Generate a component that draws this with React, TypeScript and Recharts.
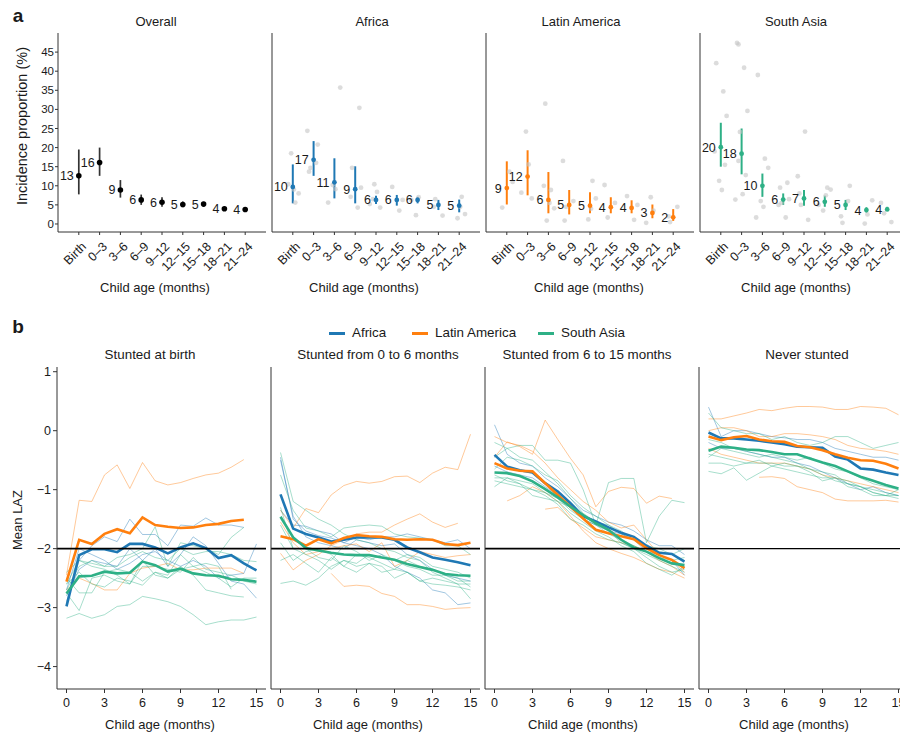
import React from "react";
import {
  ComposedChart,
  Scatter,
  ErrorBar,
  XAxis,
  YAxis,
  LineChart,
  Line,
  ReferenceLine,
} from "recharts";

// ---------- panel a: incidence proportion by age bin ----------
const AGE_BINS = ["Birth", "0–3", "3–6", "6–9", "9–12", "12–15", "15–18", "18–21", "21–24"];
const INCIDENCE_TICKS = [0, 5, 10, 15, 20, 25, 30, 35, 40, 45];

const overallEst = [12.6, 16.1, 8.9, 6.3, 5.7, 5.1, 5.2, 4.0, 3.8];
const overallLo = [7.75, 12.6, 6.9, 5.0, 4.5, 4.4, 4.7, 3.6, 3.3];
const overallHi = [19.5, 20.0, 11.5, 7.7, 7.0, 5.9, 5.8, 4.5, 4.3];

const africaEst = [9.7, 16.8, 10.9, 9.1, 6.3, 6.3, 6.3, 5.0, 4.8];
const africaLo = [5.4, 12.6, 6.7, 5.4, 5.2, 4.8, 5.4, 3.65, 3.05];
const africaHi = [15.6, 21.7, 17.2, 15.1, 7.4, 7.6, 7.1, 6.3, 6.4];

const latamEst = [9.4, 12.4, 6.3, 5.0, 4.8, 4.4, 4.2, 2.9, 1.75];
const latamLo = [5.1, 7.5, 2.8, 2.5, 2.8, 2.8, 2.8, 1.5, 0.8];
const latamHi = [16.4, 19.3, 13.6, 8.9, 8.3, 7.0, 6.2, 5.1, 3.9];

const asiaEst = [20.1, 18.4, 10.0, 6.4, 6.7, 5.8, 5.0, 3.65, 3.8];
const asiaLo = [15.0, 13.0, 7.1, 5.0, 4.8, 4.5, 3.65, 3.0, 3.4];
const asiaHi = [26.5, 25.0, 13.2, 8.0, 8.9, 7.4, 6.3, 4.4, 4.5];

// cohort-level estimates: [age bin index, incidence %]
const africaCohortDots = [
  [0, 10.4], [0, 5.6], [0, 8.0], [0, 18.5], [0, 9.0],
  [1, 24.4], [1, 20.8], [1, 14.7], [1, 13.7], [1, 16.0],
  [2, 35.7], [2, 10.2], [2, 9.1], [2, 5.6],
  [3, 30.4], [3, 14.7], [3, 7.1], [3, 4.3], [3, 9.5],
  [4, 10.4], [4, 8.4], [4, 5.2], [4, 4.3], [4, 6.5],
  [5, 9.7], [5, 3.5], [5, 6.3],
  [6, 2.3], [6, 7.0], [6, 6.3],
  [7, 2.2], [7, 6.5], [7, 4.5],
  [8, 7.1], [8, 2.6], [8, 1.5], [8, 4.5],
];
const latamCohortDots = [
  [0, 4.3], [0, 13.7], [0, 11.0],
  [1, 24.2], [1, 15.6], [1, 8.2], [1, 6.7],
  [2, 31.5], [2, 10.0], [2, 8.9], [2, 4.1], [2, 0.9], [2, 5.5],
  [3, 16.5], [3, 6.0], [3, 4.5], [3, 0.9],
  [4, 11.3], [4, 6.7], [4, 1.2], [4, 4.0],
  [5, 10.2], [5, 5.5], [5, 1.7],
  [6, 7.3], [6, 1.1], [6, 5.0],
  [7, 7.0], [7, 3.5], [7, 0.3],
  [8, 4.5], [8, 0.5], [8, 2.0],
];
const asiaCohortDots = [
  [0, 42.1], [0, 34.7], [0, 28.3], [0, 11.3], [0, 8.9], [0, 19.0], [0, 15.5],
  [1, 47.0], [1, 47.4], [1, 40.9], [1, 29.6], [1, 24.1], [1, 7.8], [1, 6.4], [1, 12.8], [1, 16.5],
  [2, 39.0], [2, 17.1], [2, 14.7], [2, 6.0], [2, 4.5], [2, 1.7],
  [3, 10.8], [3, 9.5], [3, 5.0], [3, 1.7], [3, 6.5], [3, 5.5],
  [4, 24.2], [4, 12.5], [4, 1.1], [4, 5.0], [4, 8.0],
  [5, 9.5], [5, 9.0], [5, 3.5], [5, 7.5], [5, 5.0],
  [6, 10.0], [6, 0.3], [6, 2.0], [6, 6.0],
  [7, 6.2], [7, 0.1], [7, 2.5],
  [8, 5.5], [8, 0.5], [8, 2.8],
];

// ---------- panel b: mean LAZ by month ----------
const MONTHS = [0, 1, 2, 3, 4, 5, 6, 7, 8, 9, 10, 11, 12, 13, 14, 15];
const MONTH_TICKS = [0, 3, 6, 9, 12, 15];
const LAZ_TICKS = [1, 0, -1, -2, -3, -4];

type Vals = (number | null)[];

// stunted at birth
const birthAfrica: Vals = [-2.98, -2.11, -2.01, -2.01, -2.06, -1.92, -1.92, -1.98, -2.08, -1.98, -1.91, -1.99, -2.16, -2.11, -2.25, -2.37];
const birthLatam: Vals = [-2.56, -1.85, -1.92, -1.75, -1.67, -1.74, -1.47, -1.6, -1.63, -1.65, -1.64, -1.6, -1.58, -1.53, -1.51, null];
const birthAsia: Vals = [-2.76, -2.47, -2.46, -2.39, -2.42, -2.41, -2.22, -2.28, -2.39, -2.34, -2.42, -2.45, -2.46, -2.52, -2.53, -2.56];
const birthAfricaCohorts: Vals[] = [
  [-2.9, -2.2, -1.95, -1.8, -1.88, -1.5, -1.76, -1.76, -1.95, -1.6, -1.62, -1.48, -1.6, -1.6, -1.64, null],
  [-2.8, -2.35, -2.2, -2.25, -2.3, -2.0, -2.2, -2.0, -2.3, -2.1, -1.8, -1.95, -2.25, -2.55, -2.6, -2.84],
  [-2.7, -2.0, -2.1, -2.2, -2.35, -2.25, -2.1, -2.05, -2.2, -2.3, -2.2, -2.3, -2.5, -2.45, -2.42, -1.92],
];
const birthLatamCohorts: Vals[] = [
  [-2.45, -1.18, -1.2, -0.75, -0.58, -0.98, -0.54, -0.85, -0.92, -0.88, -0.81, -0.75, -0.72, -0.62, -0.49, null],
  [-2.7, -2.5, -2.59, -2.7, -2.7, -2.42, -2.33, -2.3, -2.25, -2.36, -2.36, -2.33, -2.33, -2.33, -2.42, null],
];
const birthAsiaCohorts: Vals[] = [
  [-3.18, -3.1, -3.18, -3.12, -2.98, -2.95, -2.81, -2.85, -2.9, -2.98, -3.12, -3.29, -3.24, -3.21, -3.21, -3.16],
  [-2.75, -3.05, -2.5, -2.45, -2.55, -2.6, -2.2, -2.45, -2.5, -2.3, -2.45, -2.7, -2.75, -2.8, -2.82, null],
  [-2.6, -2.2, -2.25, -2.3, -2.15, -2.1, -2.0, -1.63, -2.3, -1.9, -1.95, -2.0, -2.1, -1.81, -1.64, null],
  [-2.7, -2.3, -2.2, -2.3, -2.3, -2.15, -2.05, -2.15, -2.2, -2.0, -2.1, -2.05, -2.05, -2.1, -2.2, -2.22],
  [-2.5, -2.75, -2.75, -2.4, -2.35, -2.4, -2.55, -2.4, -2.5, -2.35, -2.3, -2.4, -2.5, -2.65, -2.5, -2.5],
  [-2.4, -2.2, -2.3, -2.35, -2.45, -2.6, -2.3, -2.3, -2.35, -2.4, -2.15, -2.35, -2.4, -2.45, -2.55, -2.6],
  [-2.6, -2.4, -2.6, -2.65, -2.5, -2.55, -2.62, -2.4, -2.45, -2.1, -2.3, -2.25, -2.3, -2.69, null, null],
];

// stunted from 0 to 6 months
const early6Africa: Vals = [-1.08, -1.66, -1.75, -1.81, -1.88, -1.85, -1.81, -1.81, -1.81, -1.85, -1.98, -2.06, -2.15, -2.19, -2.23, -2.28];
const early6Latam: Vals = [-1.79, -1.84, -1.95, -1.84, -1.91, -1.82, -1.77, -1.79, -1.8, -1.84, -1.85, -1.84, -1.85, -1.92, -1.94, -1.9];
const early6Asia: Vals = [-1.46, -1.81, -1.99, -2.03, -2.07, -2.1, -2.11, -2.11, -2.15, -2.19, -2.26, -2.31, -2.36, -2.43, -2.45, -2.46];
const early6AfricaCohorts: Vals[] = [
  [-0.45, -1.5, -1.7, -1.78, -1.82, -1.9, -1.8, -1.85, -1.8, -1.8, -1.75, -1.8, -1.85, -1.9, -1.85, -2.0],
  [-1.35, -1.6, -1.62, -1.7, -1.75, -1.9, -1.95, -2.0, -2.1, -2.3, -2.4, -2.5, -2.7, -2.75, -2.95, -2.92],
  [-0.5, -1.45, -1.8, -1.9, -1.95, -2.0, -1.85, -1.9, -1.95, -1.92, -2.1, -2.2, -2.35, -2.45, -2.5, -2.55],
];
const early6LatamCohorts: Vals[] = [
  [-1.35, -1.65, -1.32, -1.39, -1.09, -0.93, -0.86, -0.89, -0.86, -0.78, -0.77, -0.88, -0.72, -0.62, -0.66, -0.06],
  [null, null, null, null, -2.42, -2.64, -2.62, -2.64, -2.76, -2.81, -2.95, -2.95, -2.98, -3.03, -3.01, -3.0],
  [-2.08, -2.36, -2.2, -2.1, -1.95, -1.85, -1.75, -1.72, -1.72, -1.6, -1.5, -1.41, -1.55, -1.64, -1.57, null],
  [-1.55, -1.9, -2.1, -2.05, -2.0, -1.95, -1.92, -2.05, -1.9, -2.3, -2.2, -2.05, -2.1, -2.15, -2.12, -2.1],
];
const early6AsiaCohorts: Vals[] = [
  [-0.37, -1.2, -1.35, -1.5, -1.6, -1.75, -1.85, -1.9, -2.0, -2.05, -2.15, -2.2, -2.4, -2.5, -2.6, -2.6],
  [-2.59, -2.55, -2.62, -2.5, -2.3, -2.2, -2.25, -2.1, -2.15, -2.2, -2.1, -2.15, -2.3, -2.35, -2.4, -2.5],
  [-0.75, -1.35, -1.65, -1.7, -1.8, -1.65, -1.62, -1.6, -1.62, -1.75, -1.8, -1.82, -1.85, -1.95, -1.95, -2.1],
  [-1.3, -2.0, -2.1, -2.2, -2.35, -2.2, -2.3, -2.25, -2.4, -2.35, -2.4, -2.55, -2.6, -2.62, -2.65, -2.7],
  [-2.2, -2.1, -2.25, -2.4, -2.15, -2.3, -2.4, -2.25, -2.3, -2.5, -2.4, -2.55, -2.5, -2.55, -2.6, -2.85],
  [-1.6, -2.0, -2.0, -2.15, -2.2, -1.95, -2.05, -2.2, -2.1, -2.2, -2.3, -2.35, -2.45, -2.45, -2.5, -2.65],
  [-1.9, -2.2, -2.05, -2.0, -2.1, -2.3, -2.1, -2.15, -2.25, -2.35, -2.2, -2.3, -2.35, -2.45, -2.55, -2.55],
];

// stunted from 6 to 15 months
const late15Africa: Vals = [-0.41, -0.61, -0.67, -0.71, -0.89, -1.03, -1.23, -1.45, -1.54, -1.64, -1.73, -1.8, -1.95, -2.07, -2.09, -2.22];
const late15Latam: Vals = [-0.55, -0.64, -0.68, -0.69, -0.89, -1.09, -1.29, -1.49, -1.68, -1.74, -1.79, -1.84, -1.99, -2.11, -2.19, -2.33];
const late15Asia: Vals = [-0.71, -0.72, -0.77, -0.86, -0.99, -1.13, -1.29, -1.43, -1.57, -1.68, -1.85, -1.98, -2.05, -2.16, -2.25, -2.28];
const late15AfricaCohorts: Vals[] = [
  [0.1, -0.4, -0.55, -0.6, -0.8, -0.95, -1.15, -1.35, -1.45, -1.55, -1.6, -1.7, -1.85, -1.95, -1.95, -2.1],
  [-0.6, -0.7, -0.75, -0.8, -0.95, -1.1, -1.25, -1.5, -1.6, -1.7, -1.75, -1.85, -2.05, -2.1, -2.2, -2.45],
];
const late15LatamCohorts: Vals[] = [
  [-0.45, -0.19, -0.27, -0.4, 0.18, -0.15, -0.47, -0.75, -1.29, -1.03, -0.96, -0.98, -1.23, -1.11, -1.15, null],
  [-0.1, -0.2, -0.25, -0.35, -0.55, -0.8, -1.0, -1.2, -1.35, -1.55, -1.65, -1.6, -1.85, -2.1, -2.2, -2.4],
  [null, -1.19, -1.1, -0.95, -1.05, -1.2, -1.45, -1.7, -1.9, -2.0, -2.08, -2.15, -2.25, -2.35, -2.4, -2.5],
  [null, null, null, null, -1.33, -1.3, -1.5, -1.65, -1.8, -1.85, -1.9, -1.95, -2.05, -2.2, -2.3, -2.45],
];
const late15AsiaCohorts: Vals[] = [
  [-0.2, -0.3, -0.25, -0.25, -0.5, -0.5, -0.55, -1.0, -1.6, -0.88, -0.81, -0.81, -1.9, -1.45, -1.18, -1.22],
  [-0.45, -0.3, -0.45, -0.5, -0.7, -0.9, -1.15, -1.4, -1.55, -1.7, -1.9, -2.0, -2.15, -2.3, -2.4, -2.35],
  [-0.8, -0.8, -0.85, -0.9, -1.05, -1.2, -1.4, -1.55, -1.7, -1.8, -1.95, -2.05, -2.25, -2.35, -2.45, -2.3],
  [-0.75, -0.85, -0.9, -1.0, -1.05, -1.15, -1.35, -1.5, -1.6, -1.75, -1.85, -1.95, -2.05, -2.15, -2.2, -2.15],
  [-0.85, -0.9, -0.95, -1.0, -1.1, -1.25, -1.5, -1.6, -1.75, -1.85, -1.9, -2.0, -2.1, -2.2, -2.3, -2.4],
  [-0.65, -0.45, -0.5, -0.6, -0.75, -0.85, -1.1, -1.3, -1.45, -1.6, -1.75, -1.85, -1.95, -2.05, -2.1, -2.0],
  [-0.95, -0.8, -0.9, -1.1, -1.15, -1.2, -1.3, -1.45, -1.55, -1.6, -1.7, -1.85, -1.95, -2.0, -2.1, -2.2],
];

// never stunted
const neverAfrica: Vals = [-0.03, -0.13, -0.13, -0.15, -0.17, -0.2, -0.23, -0.27, -0.28, -0.29, -0.44, -0.49, -0.64, -0.66, -0.71, -0.75];
const neverLatam: Vals = [-0.1, -0.16, -0.11, -0.09, -0.15, -0.18, -0.19, -0.26, -0.28, -0.33, -0.4, -0.46, -0.5, -0.51, -0.56, -0.64];
const neverAsia: Vals = [-0.34, -0.27, -0.29, -0.32, -0.33, -0.36, -0.4, -0.4, -0.47, -0.54, -0.6, -0.69, -0.78, -0.85, -0.92, -0.98];
const neverAfricaCohorts: Vals[] = [
  [0.4, -0.1, 0.0, 0.0, -0.05, -0.1, -0.12, -0.15, -0.15, -0.2, -0.3, -0.35, -0.4, -0.45, -0.45, -0.5],
  [-0.2, -0.3, -0.3, -0.35, -0.4, -0.45, -0.45, -0.55, -0.6, -0.7, -0.8, -0.9, -1.0, -0.95, -1.05, -1.1],
];
const neverLatamCohorts: Vals[] = [
  [0.2, 0.2, 0.25, 0.3, 0.36, 0.34, 0.38, 0.41, 0.41, 0.4, 0.36, 0.36, 0.41, 0.4, 0.38, 0.27],
  [null, null, null, null, -0.79, -0.78, -0.81, -0.95, -1.0, -1.05, -1.16, -1.19, -1.19, -1.19, -1.18, -1.21],
  [0.0, 0.05, 0.05, 0.0, -0.1, -0.1, -0.05, -0.05, -0.07, -0.1, -0.15, -0.25, -0.3, -0.32, -0.35, -0.4],
  [-0.3, -0.4, -0.45, -0.5, -0.55, -0.55, -0.55, -0.6, -0.65, -0.75, -0.8, -0.85, -0.9, -0.95, -1.0, -1.05],
];
const neverAsiaCohorts: Vals[] = [
  [-0.69, -0.73, -0.63, -0.84, -0.72, -0.6, -0.55, -0.6, -0.65, -0.7, -0.75, -0.9, -0.95, -1.0, -1.05, -1.1],
  [0.3, 0.05, 0.0, -0.05, -0.05, -0.15, -0.1, -0.2, -0.25, -0.2, -0.1, -0.1, -0.2, -0.3, -0.25, -0.2],
  [-0.4, -0.45, -0.5, -0.55, -0.55, -0.55, -0.6, -0.6, -0.7, -0.85, -0.8, -0.95, -1.0, -1.1, -1.1, -1.15],
  [-0.15, -0.2, -0.3, -0.35, -0.4, -0.45, -0.5, -0.55, -0.65, -0.75, -0.85, -0.9, -0.95, -1.05, -1.1, -1.1],
  [-0.55, -0.55, -0.6, -0.55, -0.5, -0.6, -0.65, -0.7, -0.75, -0.8, -0.8, -0.85, -0.95, -1.05, -1.1, -1.0],
  [-0.45, -0.3, -0.35, -0.4, -0.45, -0.4, -0.45, -0.5, -0.45, -0.55, -0.65, -0.7, -0.8, -0.9, -0.95, -1.0],
];

const REGIONS = ["Africa", "Latin America", "South Asia"];
const A_TITLES = ["Overall", "Africa", "Latin America", "South Asia"];
const B_TITLES = ["Stunted at birth", "Stunted from 0 to 6 months", "Stunted from 6 to 15 months", "Never stunted"];

// ---------- styling ----------
const FONT = '"Liberation Sans", Arial, Helvetica, sans-serif';
const INK = "#1a1a1a";
const AXIS = "#333333";
const COLORS = ["#1F78B4", "#FF7F0E", "#2EB086"];
const JITTER = [-0.22, 0.12, 0.28, -0.08, 0.05, -0.3, 0.2, -0.15];

function pointRows(est: number[], lo: number[], hi: number[]) {
  return est.map((y, i) => ({ x: i + 1, y, err: [y - lo[i], hi[i] - y] }));
}

function dotRows(dots: number[][]) {
  return dots.map(([bin, y], i) => ({ x: bin + 1 + JITTER[i % JITTER.length], y }));
}

const AgeTick = (props: any) => {
  const { x, y, payload } = props;
  const ax = x + 2;
  const ay = y + 4;
  return (
    <text
      x={ax}
      y={ay}
      transform={`rotate(-45, ${ax}, ${ay})`}
      textAnchor="end"
      dominantBaseline="hanging"
      fontSize={12.5}
      fill={INK}
    >
      {AGE_BINS[payload.value - 1]}
    </text>
  );
};

const grayDot = (props: any) => (
  <circle cx={props.cx} cy={props.cy} r={2.4} fill="#c4c4c4" fillOpacity={0.6} />
);

const labelledDot = (color: string, r: number) => (props: any) => {
  const { cx, cy, payload } = props;
  return (
    <g>
      <circle cx={cx} cy={cy} r={r} fill={color} />
      <text x={cx - 5} y={cy} dy="0.36em" textAnchor="end" fontSize={12.5} fill={INK}>
        {Math.round(payload.y)}
      </text>
    </g>
  );
};

function IncidencePanel(props: {
  left: number;
  est: number[];
  lo: number[];
  hi: number[];
  dots?: number[][];
  color: string;
  barColor: string;
  barWidth: number;
  r: number;
  showY: boolean;
}) {
  const { left, est, lo, hi, dots, color, barColor, barWidth, r, showY } = props;
  return (
    <div style={{ position: "absolute", left, top: 0 }}>
      <ComposedChart width={253} height={300} margin={{ top: 33, right: 5, bottom: 0, left: 0 }}>
        <XAxis
          type="number"
          dataKey="x"
          domain={[0, 10]}
          ticks={[1, 2, 3, 4, 5, 6, 7, 8, 9]}
          interval={0}
          allowDataOverflow
          height={68}
          tickSize={3}
          tickMargin={2}
          stroke={AXIS}
          tick={(p: any) => <AgeTick {...p} />}
        />
        <YAxis
          type="number"
          dataKey="y"
          domain={[-2.1, 50]}
          ticks={INCIDENCE_TICKS}
          interval={0}
          allowDataOverflow
          width={40}
          tickSize={3}
          tickMargin={1}
          stroke={AXIS}
          tickLine={showY}
          tick={showY ? { fontSize: 11.5, fill: INK } : false}
        />
        {dots && <Scatter data={dotRows(dots)} shape={grayDot} isAnimationActive={false} />}
        <Scatter data={pointRows(est, lo, hi)} shape={labelledDot(color, r)} isAnimationActive={false}>
          <ErrorBar dataKey="err" direction="y" width={0} stroke={barColor} strokeWidth={barWidth} />
        </Scatter>
      </ComposedChart>
    </div>
  );
}

type Series = { key: string; values: Vals; color: string; main: boolean };

function buildSeries(main: Vals[], cohorts: Vals[][]): Series[] {
  const thin: Series[] = [];
  cohorts.forEach((group, g) =>
    group.forEach((values, k) => thin.push({ key: `c${g}_${k}`, values, color: COLORS[g], main: false }))
  );
  const bold = main.map((values, g) => ({ key: `m${g}`, values, color: COLORS[g], main: true }));
  return [...thin, ...bold];
}

const fmtLaz = (v: number) => (v < 0 ? `−${Math.abs(v)}` : `${v}`);

function LazPanel(props: { left: number; series: Series[]; showY: boolean; refWidth: number }) {
  const { left, series, showY, refWidth } = props;
  const rows = MONTHS.map((m, i) => {
    const row: Record<string, number | null> = { m };
    series.forEach((s) => (row[s.key] = s.values[i]));
    return row;
  });
  return (
    <div style={{ position: "absolute", left, top: 340 }}>
      <LineChart width={254} height={392} data={rows} margin={{ top: 27, right: 5, bottom: 0, left: 0 }}>
        <XAxis
          type="number"
          dataKey="m"
          domain={[-0.75, 15.75]}
          ticks={MONTH_TICKS}
          interval={0}
          allowDataOverflow
          height={43}
          tickSize={4}
          tickMargin={5}
          stroke={AXIS}
          tick={{ fontSize: 12.5, fill: INK }}
        />
        <YAxis
          type="number"
          domain={[-4.38, 1.08]}
          ticks={LAZ_TICKS}
          interval={0}
          allowDataOverflow
          width={40}
          tickSize={4}
          tickMargin={2}
          stroke={AXIS}
          tickLine={showY}
          tick={showY ? { fontSize: 12.5, fill: INK } : false}
          tickFormatter={fmtLaz}
        />
        {series.map((s) => (
          <Line
            key={s.key}
            type="linear"
            dataKey={s.key}
            stroke={s.color}
            strokeWidth={s.main ? 2.6 : 1}
            strokeOpacity={s.main ? 1 : 0.42}
            dot={false}
            activeDot={false}
            connectNulls={false}
            isAnimationActive={false}
          />
        ))}
        <ReferenceLine y={-2} stroke="#000" strokeWidth={refWidth} />
      </LineChart>
    </div>
  );
}

function Txt(props: { x: number; y: number; size: number; children: React.ReactNode; rotate?: boolean; bold?: boolean }) {
  const { x, y, size, children, rotate, bold } = props;
  return (
    <div
      style={{
        position: "absolute",
        left: x,
        top: y,
        transform: `translate(-50%, -50%)${rotate ? " rotate(-90deg)" : ""}`,
        fontSize: size,
        lineHeight: 1,
        whiteSpace: "nowrap",
        fontWeight: bold ? 700 : 400,
        color: INK,
      }}
    >
      {children}
    </div>
  );
}

const A_TITLE_X = [156, 372, 581, 796];
const A_XLAB_X = [155, 364, 589, 796];
const B_TITLE_X = [150, 378, 587, 807];
const B_XLAB_X = [160, 368, 583, 794];
const LEGEND_X = [329, 412, 538];

export default function App() {
  const incidence = [
    { est: overallEst, lo: overallLo, hi: overallHi, dots: undefined, color: "#000", barColor: "#333", barWidth: 1.7, r: 2.8 },
    { est: africaEst, lo: africaLo, hi: africaHi, dots: africaCohortDots, color: COLORS[0], barColor: COLORS[0], barWidth: 2, r: 2.4 },
    { est: latamEst, lo: latamLo, hi: latamHi, dots: latamCohortDots, color: COLORS[1], barColor: COLORS[1], barWidth: 2, r: 2.4 },
    { est: asiaEst, lo: asiaLo, hi: asiaHi, dots: asiaCohortDots, color: COLORS[2], barColor: COLORS[2], barWidth: 2, r: 2.4 },
  ];
  const laz = [
    buildSeries([birthAfrica, birthLatam, birthAsia], [birthAfricaCohorts, birthLatamCohorts, birthAsiaCohorts]),
    buildSeries([early6Africa, early6Latam, early6Asia], [early6AfricaCohorts, early6LatamCohorts, early6AsiaCohorts]),
    buildSeries([late15Africa, late15Latam, late15Asia], [late15AfricaCohorts, late15LatamCohorts, late15AsiaCohorts]),
    buildSeries([neverAfrica, neverLatam, neverAsia], [neverAfricaCohorts, neverLatamCohorts, neverAsiaCohorts]),
  ];

  return (
    <div
      style={{
        position: "absolute",
        left: 0,
        top: 0,
        width: 900,
        height: 732,
        overflow: "hidden",
        background: "#fff",
        fontFamily: FONT,
        color: INK,
      }}
    >
      {incidence.map((p, i) => (
        <IncidencePanel key={i} left={58 + 214 * i - 40} showY={i === 0} {...p} />
      ))}
      {laz.map((s, i) => (
        <LazPanel key={i} left={57 + 214 * i - 40} series={s} showY={i === 0} refWidth={i === 3 ? 1.1 : 1.8} />
      ))}

      <Txt x={18} y={15} size={19} bold>a</Txt>
      <Txt x={18} y={326} size={19} bold>b</Txt>

      {A_TITLES.map((t, i) => (
        <Txt key={t} x={A_TITLE_X[i]} y={20.5} size={13}>{t}</Txt>
      ))}
      {A_XLAB_X.map((x, i) => (
        <Txt key={i} x={x} y={287} size={13}>Child age (months)</Txt>
      ))}
      <Txt x={22} y={126} size={14.5} rotate>Incidence proportion (%)</Txt>

      {B_TITLES.map((t, i) => (
        <Txt key={t} x={B_TITLE_X[i]} y={355} size={13.4}>{t}</Txt>
      ))}
      {B_XLAB_X.map((x, i) => (
        <Txt key={i} x={x} y={724} size={13}>Child age (months)</Txt>
      ))}
      <Txt x={17} y={520} size={13} rotate>Mean LAZ</Txt>

      {REGIONS.map((r, i) => (
        <div
          key={r}
          style={{ position: "absolute", left: LEGEND_X[i], top: 325, height: 16, display: "flex", alignItems: "center", fontSize: 13.4, lineHeight: 1, whiteSpace: "nowrap" }}
        >
          <span style={{ display: "inline-block", width: 16, height: 3, background: COLORS[i], marginRight: 7 }} />
          {r}
        </div>
      ))}
    </div>
  );
}
